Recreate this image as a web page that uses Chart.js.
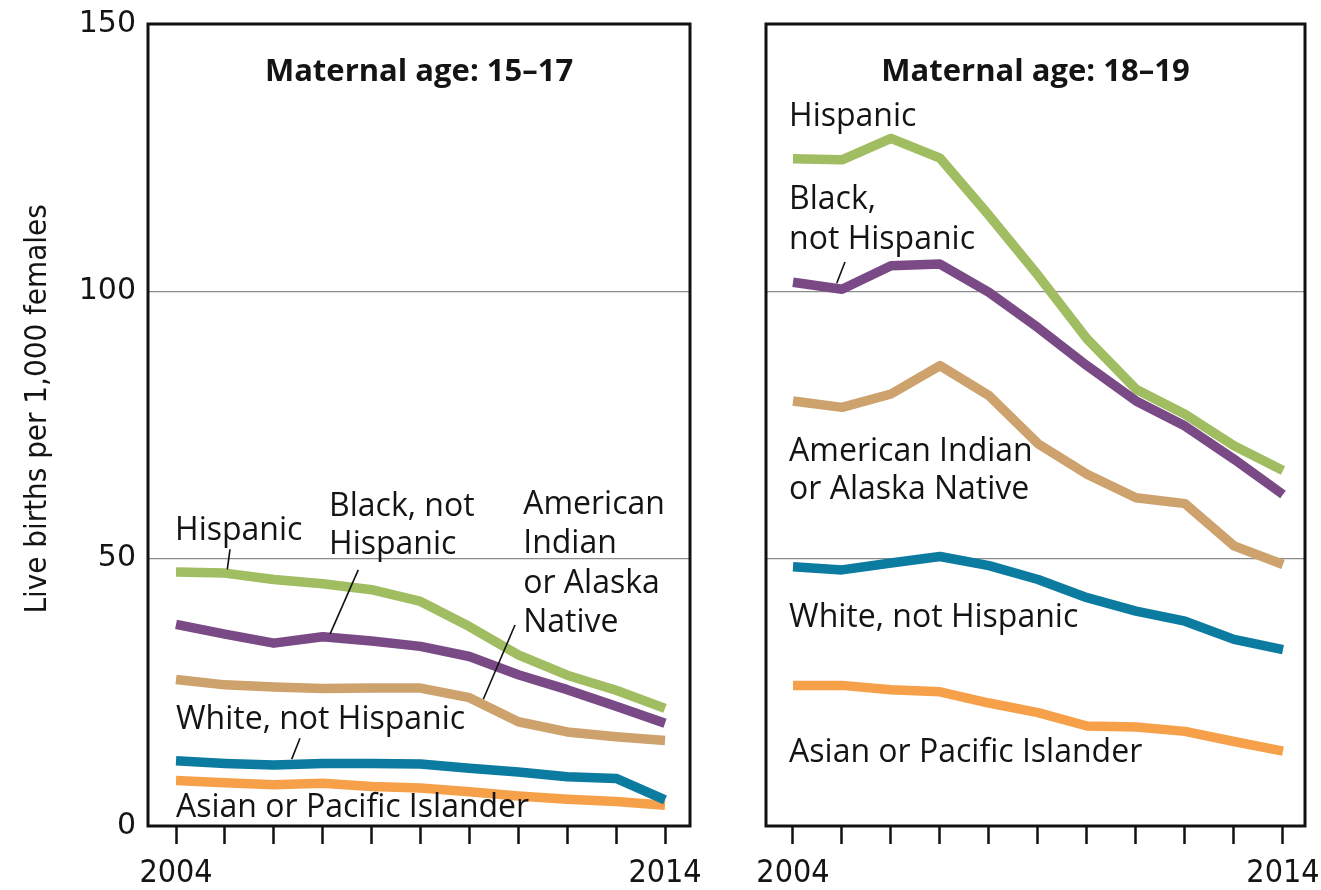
<!DOCTYPE html>
<html><head><meta charset="utf-8">
<script src="https://cdn.jsdelivr.net/npm/chart.js@4.4.1/dist/chart.umd.min.js"></script>
<style>
html,body{margin:0;padding:0;background:#fff;}
#wrap{position:relative;width:1321px;height:890px;overflow:hidden;}
canvas{position:absolute;top:0;}
#c1{left:0}
#c2{left:728px}
</style></head><body>
<div id="wrap"><canvas id="c1" width="728" height="890"></canvas><canvas id="c2" width="593" height="890"></canvas></div>
<script>
// ---- data ----
const years = [2004, 2005, 2006, 2007, 2008, 2009, 2010, 2011, 2012, 2013, 2014];
const xTickLabels = ['2004', '2014'];
const yTickValues = [0, 50, 100, 150];
const yGridValues = [50, 100];
const panelTitles = ['Maternal age: 15–17', 'Maternal age: 18–19'];
const yAxisTitle = 'Live births per 1,000 females';

// Maternal age 15–17
const hispanic15 = [47.5, 47.3, 46.1, 45.3, 44.2, 42.0, 37.3, 32.0, 28.2, 25.4, 22.0];
const black15    = [37.7, 35.9, 34.2, 35.4, 34.6, 33.6, 31.7, 28.3, 25.5, 22.4, 19.2];
const aian15     = [27.4, 26.4, 26.0, 25.7, 25.8, 25.8, 24.0, 19.5, 17.6, 16.7, 16.0];
const white15    = [12.2, 11.7, 11.4, 11.7, 11.7, 11.6, 10.8, 10.1, 9.2, 8.9, 4.9];
const asian15    = [8.5, 8.1, 7.7, 8.0, 7.4, 7.1, 6.4, 5.6, 5.0, 4.6, 3.9];

// Maternal age 18–19
const hispanic18 = [124.8, 124.6, 128.6, 124.9, 114.2, 103.0, 91.1, 81.7, 77.0, 71.1, 66.5];
const black18    = [101.7, 100.4, 104.8, 105.1, 99.8, 93.2, 86.1, 79.5, 74.8, 68.6, 62.0];
const aian18     = [79.5, 78.3, 80.8, 86.1, 80.5, 71.5, 65.8, 61.4, 60.3, 52.4, 48.9];
const white18    = [48.5, 47.9, 49.2, 50.4, 48.7, 46.1, 42.7, 40.2, 38.3, 34.9, 33.0];
const asian18    = [26.3, 26.3, 25.5, 25.1, 23.0, 21.2, 18.7, 18.5, 17.7, 15.8, 14.0];

const seriesNames = ['White, not Hispanic', 'Asian or Pacific Islander', 'Black, not Hispanic', 'Hispanic', 'American Indian or Alaska Native'];
const seriesColors = ['#0b7ba0', '#f6a14a', '#7a4a86', '#a1bd62', '#cda26d'];

// ---- styling ----
const LABEL_FONT = '32px "Open Sans"';
const TITLE_FONT = 'bold 31px "Open Sans"';
const AXIS_TITLE_FONT = '31px "DejaVu Sans Condensed"';
const TEXT = '#141414';

const framePlugin = {
  id: 'annot',
  afterDatasetsDraw(chart, args, opts) {
    const {ctx, chartArea: a, scales: {x, y}} = chart;
    ctx.save();
    ctx.strokeStyle = '#111';
    ctx.lineWidth = 3;
    ctx.strokeRect(a.left, a.top, a.right - a.left, a.bottom - a.top);
    ctx.lineWidth = 1.6;
    (opts.pointers || []).forEach(p => {
      ctx.beginPath();
      ctx.moveTo(x.getPixelForValue(p[0]), y.getPixelForValue(p[1]));
      ctx.lineTo(x.getPixelForValue(p[2]), y.getPixelForValue(p[3]));
      ctx.stroke();
    });
    ctx.fillStyle = TEXT;
    ctx.textBaseline = 'middle';
    (opts.labels || []).forEach(l => {
      ctx.font = l.font || LABEL_FONT;
      ctx.textAlign = l.align || 'left';
      ctx.fillText(l.text, x.getPixelForValue(l.x), y.getPixelForValue(l.y));
    });
    if (opts.axisTitle) {
      // y-axis title, placed beside the value axis
      ctx.save();
      ctx.translate(38, y.getPixelForValue(opts.axisTitle.y));
      ctx.rotate(-Math.PI / 2);
      ctx.font = AXIS_TITLE_FONT;
      ctx.textAlign = 'center';
      ctx.textBaseline = 'middle';
      ctx.fillText(opts.axisTitle.text, 0, 0);
      ctx.restore();
    }
    ctx.restore();
  }
};

function makeChart(id, seriesList, cfg) {
  const datasets = seriesList.map((d, i) => ({
    label: seriesNames[i],
    data: years.map((yr, j) => ({x: yr, y: d[j]})),
    borderColor: seriesColors[i],
    backgroundColor: seriesColors[i],
    borderWidth: 9.5,
    pointRadius: 0,
    tension: 0,
    borderJoinStyle: 'round',
    borderCapStyle: 'butt',
    fill: false
  }));
  return new Chart(document.getElementById(id), {
    type: 'line',
    data: {datasets},
    plugins: [framePlugin],
    options: {
      responsive: false,
      animation: false,
      layout: {padding: {top: 24, right: cfg.padRight, left: 0, bottom: 0}},
      plugins: {
        legend: {display: false},
        tooltip: {enabled: false},
        annot: {labels: cfg.labels, pointers: cfg.pointers, axisTitle: cfg.axisTitle}
      },
      scales: {
        x: {
          type: 'linear',
          min: cfg.xmin, max: cfg.xmax,
          afterBuildTicks: s => { s.ticks = years.map(v => ({value: v})); },
          afterFit: s => { s.height = 64; s.paddingLeft = 0; s.paddingRight = 0; },
          border: {display: false},
          grid: {drawOnChartArea: false, drawTicks: true, tickLength: 18, tickColor: '#111', tickWidth: 2.5},
          ticks: {
            autoSkip: false, maxRotation: 0, padding: 10, color: TEXT,
            font: {family: 'DejaVu Sans Condensed', size: 32},
            callback: v => (v === years[0] ? xTickLabels[0] : (v === years[years.length - 1] ? xTickLabels[1] : ''))
          }
        },
        y: {
          type: 'linear', min: 0, max: 150,
          afterBuildTicks: s => { s.ticks = yTickValues.map(v => ({value: v})); },
          afterFit: s => { s.width = cfg.yWidth; s.paddingTop = 0; s.paddingBottom = 0; },
          border: {display: false},
          grid: {
            drawTicks: false,
            color: c => (yGridValues.includes(c.tick.value) ? '#8a8a8a' : 'rgba(0,0,0,0)'),
            lineWidth: 1.2
          },
          ticks: {
            display: cfg.showY, padding: 12, color: TEXT,
            font: {family: 'DejaVu Sans', size: 30}
          },
          title: {display: false}
        }
      }
    }
  });
}

makeChart('c1', [white15, asian15, black15, hispanic15, aian15], {
  xmin: 2003.427, xmax: 2014.511, padRight: 38, yWidth: 148, showY: true,
  axisTitle: {text: yAxisTitle, y: 78.0},
  labels: [
    {text: panelTitles[0], x: 2008.97, y: 141.0, align: 'center', font: TITLE_FONT},
    {text: 'Hispanic', x: 2003.98, y: 55.2},
    {text: 'Black, not', x: 2007.13, y: 59.7},
    {text: 'Hispanic', x: 2007.13, y: 52.6},
    {text: 'American', x: 2011.10, y: 60.0},
    {text: 'Indian', x: 2011.10, y: 52.8},
    {text: 'or Alaska', x: 2011.10, y: 45.3},
    {text: 'Native', x: 2011.10, y: 37.9},
    {text: 'White, not Hispanic', x: 2004.0, y: 19.8},
    {text: 'Asian or Pacific Islander', x: 2004.0, y: 3.4}
  ],
  pointers: [
    [2005.104, 51.75, 2005.049, 48.0],
    [2007.727, 47.9, 2007.149, 35.9],
    [2010.932, 37.6, 2010.284, 23.7],
    [2006.535, 16.4, 2006.366, 12.5]
  ]
});

makeChart('c2', [white18, asian18, black18, hispanic18, aian18], {
  xmin: 2003.449, xmax: 2014.449, padRight: 16, yWidth: 38, showY: false,
  labels: [
    {text: panelTitles[1], x: 2008.949, y: 141.0, align: 'center', font: TITLE_FONT},
    {text: 'Hispanic', x: 2003.92, y: 132.6},
    {text: 'Black,', x: 2003.92, y: 117.1},
    {text: 'not Hispanic', x: 2003.92, y: 109.6},
    {text: 'American Indian', x: 2003.92, y: 69.9},
    {text: 'or Alaska Native', x: 2003.92, y: 62.8},
    {text: 'White, not Hispanic', x: 2003.92, y: 38.9},
    {text: 'Asian or Pacific Islander', x: 2003.92, y: 13.7}
  ],
  pointers: [
    [2005.061, 105.5, 2004.892, 101.5]
  ]
});
</script>
</body></html>
